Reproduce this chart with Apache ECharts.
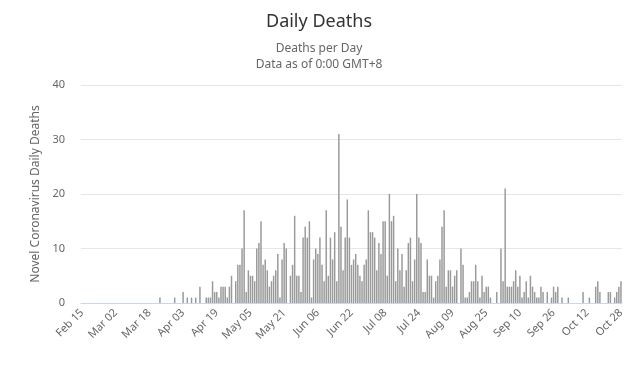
<!DOCTYPE html>
<html>
<head>
<meta charset="utf-8">
<script src="https://cdn.jsdelivr.net/npm/echarts@6/dist/echarts.min.js"></script>
<style>
html,body{margin:0;padding:0;background:#fff;}
#chart{width:638px;height:366px;}
</style>
</head>
<body>
<div id="chart"></div>
<script>
// Daily deaths, by month (Feb 15 .. Oct 28)
var febDeaths = [0,0,0,0,0,0,0,0,0,0,0,0,0,0,0];
var marDeaths = [0,0,0,0,0,0,0,0,0,0,0,0,0,0,0,0,0,0,0,0,0,0,1,0,0,0,0,0,0,1,0];
var aprDeaths = [0,0,2,0,1,0,1,0,1,0,3,0,0,1,1,1,4,2,2,1,3,3,3,1,3,5,0,4,7,7];
var mayDeaths = [10,17,2,6,5,5,4,10,11,15,7,8,6,3,4,5,6,9,1,8,11,10,0,5,7,16,5,5,2,12,14];
var junDeaths = [12,15,1,8,10,9,12,7,4,17,5,12,8,13,4,31,14,6,12,19,12,7,8,9,7,5,4,7,8,17];
var julDeaths = [13,13,12,6,11,9,15,15,5,20,15,16,4,10,6,9,3,6,11,12,4,8,20,12,11,2,2,8,5,5,1];
var augDeaths = [4,5,8,14,17,3,6,6,3,5,6,0,10,7,1,1,2,4,4,7,4,1,5,2,3,3,1,0,0,2,0];
var sepDeaths = [10,4,21,3,3,3,4,6,3,5,1,2,4,1,5,3,2,1,1,3,2,0,2,0,1,3,2,3,0,1];
var octDeaths = [0,0,1,0,0,0,0,0,0,2,0,0,1,0,0,3,4,2,0,0,0,2,2,0,1,2,3,4];

var monthNames = ['Feb','Mar','Apr','May','Jun','Jul','Aug','Sep','Oct'];
var monthStartDay = [15,1,1,1,1,1,1,1,1];
var monthSeries = [febDeaths,marDeaths,aprDeaths,mayDeaths,junDeaths,julDeaths,augDeaths,sepDeaths,octDeaths];

var yTicks = [0,10,20,30,40];

var categories = [];
var values = [];
monthSeries.forEach(function(arr, m){
  arr.forEach(function(v, i){
    var d = monthStartDay[m] + i;
    categories.push(monthNames[m] + ' ' + (d < 10 ? '0' + d : '' + d));
    values.push(v);
  });
});

var font = '"Noto Sans", "Open Sans", sans-serif';
var chart = echarts.init(document.getElementById('chart'), null, {renderer:'canvas'});
chart.setOption({
  animation:false,
  backgroundColor:'#fff',
  textStyle:{fontFamily:font},
  title:{
    text:'Daily Deaths',
    subtext:'Deaths per Day\nData as of 0:00 GMT+8',
    left:'center',
    top:8,
    itemGap:10,
    textStyle:{fontSize:18,fontWeight:'normal',color:'#333',fontFamily:font},
    subtextStyle:{fontSize:12,color:'#666',lineHeight:16,fontFamily:font}
  },
  grid:{left:81,right:16,top:85,bottom:63,containLabel:false},
  xAxis:{
    type:'category',
    data:categories,
    axisLine:{lineStyle:{color:'#ccd6eb'}},
    axisTick:{show:false},
    axisLabel:{interval:15,rotate:45,color:'#666',fontSize:11,fontFamily:font,margin:8}
  },
  yAxis:{
    type:'value',
    min:yTicks[0],
    max:yTicks[yTicks.length-1],
    interval:10,
    name:'Novel Coronavirus Daily Deaths',
    nameLocation:'middle',
    nameGap:34,
    nameTextStyle:{color:'#666',fontSize:12,fontFamily:font},
    axisLine:{show:false},
    axisTick:{show:false},
    axisLabel:{color:'#666',fontSize:11,fontFamily:font,margin:16,padding:[4,0,0,0]},
    splitLine:{lineStyle:{color:'#e6e6e6'}}
  },
  series:[{
    type:'bar',
    data:values,
    itemStyle:{color:'#999999'},
    barCategoryGap:'30%'
  }]
});
</script>
</body>
</html>
